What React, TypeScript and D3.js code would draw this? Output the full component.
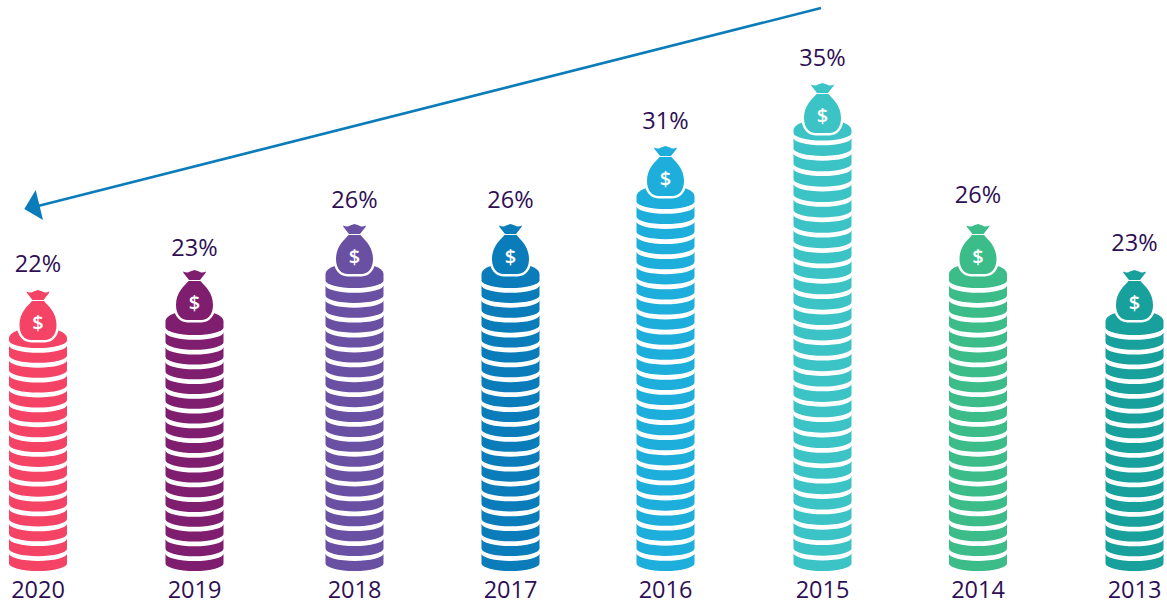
import React from "react";
import * as d3 from "d3";

const years = ["2020", "2019", "2018", "2017", "2016", "2015", "2014", "2013"];
const shares = [22, 23, 26, 26, 31, 35, 26, 23];
const colors = ["#f44365", "#7f1d6e", "#6a50a3", "#0b7cba", "#1eaedb", "#3cc3c6", "#3cbc88", "#17a09c"];
const coinCounts = [15, 16, 19, 19, 24, 28, 19, 16];
const shareKnots = [22, 23, 26, 31, 35];

const W = 1167, H = 603;
const centers = [38, 194.5, 354.5, 510.5, 665.5, 822.5, 978, 1134.5];
const labelNudge = [-1, 3, 1, 1, 0, 0, -4, -2];
const x = d3.scaleOrdinal<string, number>().domain(years).range(centers);
const bagY = d3.scaleLinear().domain(shareKnots).range([290, 270, 224, 146, 83]);
const shoulderY = d3.scaleLinear().domain(shareKnots).range([330, 313, 265.7, 188, 122]);
const discBottomY = d3.scaleLinear().domain(shareKnots).range([348, 335, 288, 209, 140.5]);
const BASE = 571, RX = 29, RY = 7.5, GAP = 4.8;

function coinPath(cx: number, bottom: number, side: number) {
  const top = bottom - side - RY;
  const l = cx - RX, r = cx + RX;
  return `M${l},${top}A${RX},${RY} 0 0 0 ${r},${top}L${r},${bottom - RY}A${RX},${RY} 0 0 1 ${l},${bottom - RY}Z`;
}
function discPath(cx: number, shoulder: number, bottom: number) {
  const mid = shoulder + 8;
  const l = cx - RX, r = cx + RX;
  return `M${l},${mid}A${RX},10.5 0 0 1 ${r},${mid}L${r},${bottom - RY}A${RX},${RY} 0 0 1 ${l},${bottom - RY}Z`;
}
function bagBody(c: number, t: number) {
  return `M${c - 6},${t + 11}C${c - 10},${t + 16} ${c - 18.5},${t + 22} ${c - 18.5},${t + 35}C${c - 18.5},${t + 45} ${c - 13},${t + 50} ${c - 7},${t + 50}L${c + 7},${t + 50}C${c + 13},${t + 50} ${c + 18.5},${t + 45} ${c + 18.5},${t + 35}C${c + 18.5},${t + 22} ${c + 10},${t + 16} ${c + 6},${t + 11}Z`;
}
function bagKnot(c: number, t: number) {
  return `M${c - 11.5},${t + 1.5}Q${c - 7},${t + 3.5} ${c - 4.5},${t + 1.5}L${c},${t}L${c + 4.5},${t + 1.5}Q${c + 7},${t + 3.5} ${c + 11.5},${t + 1.5}L${c + 11},${t + 3}L${c + 5.5},${t + 10}L${c - 5.5},${t + 10}L${c - 11},${t + 3}Z`;
}

export default function App() {
  const font = "'Open Sans', 'Noto Sans', sans-serif";
  return (
    <svg width={W} height={H} style={{ position: "absolute", left: 0, top: 0 }}>
      <line x1={821} y1={8} x2={36} y2={206.5} stroke="#0b7cba" strokeWidth={2.5} />
      <path d="M35.7,190L24.3,209L43,220Z" fill="#0b7cba" />
      {years.map((yr, i) => {
        const c = x(yr);
        const v = shares[i];
        const n = coinCounts[i];
        const disc = discBottomY(v);
        const step = (BASE - disc) / n;
        const bagTop = bagY(v);
        return (
          <g key={yr}>
            {d3.range(n).map((k) => (
              <path key={k} d={coinPath(c, BASE - k * step, step - GAP)} fill={colors[i]} />
            ))}
            <path d={discPath(c, shoulderY(v), disc)} fill={colors[i]} />
            <path d={bagBody(c, bagTop)} fill={colors[i]} stroke="#fff" strokeWidth={5} paintOrder="stroke" />
            <path d={bagKnot(c, bagTop)} fill={colors[i]} />
            <text x={c} y={bagTop + 39.5} textAnchor="middle" fill="#fff" fontFamily={font} fontWeight={600} fontSize={20}>$</text>
            <text x={c} y={bagTop - 17 + labelNudge[i]} textAnchor="middle" fill="#2e0f54" fontFamily={font} fontSize={23.5}>{v}%</text>
            <text x={c} y={598} textAnchor="middle" fill="#2e0f54" fontFamily={font} fontSize={23.5}>{yr}</text>
          </g>
        );
      })}
    </svg>
  );
}
